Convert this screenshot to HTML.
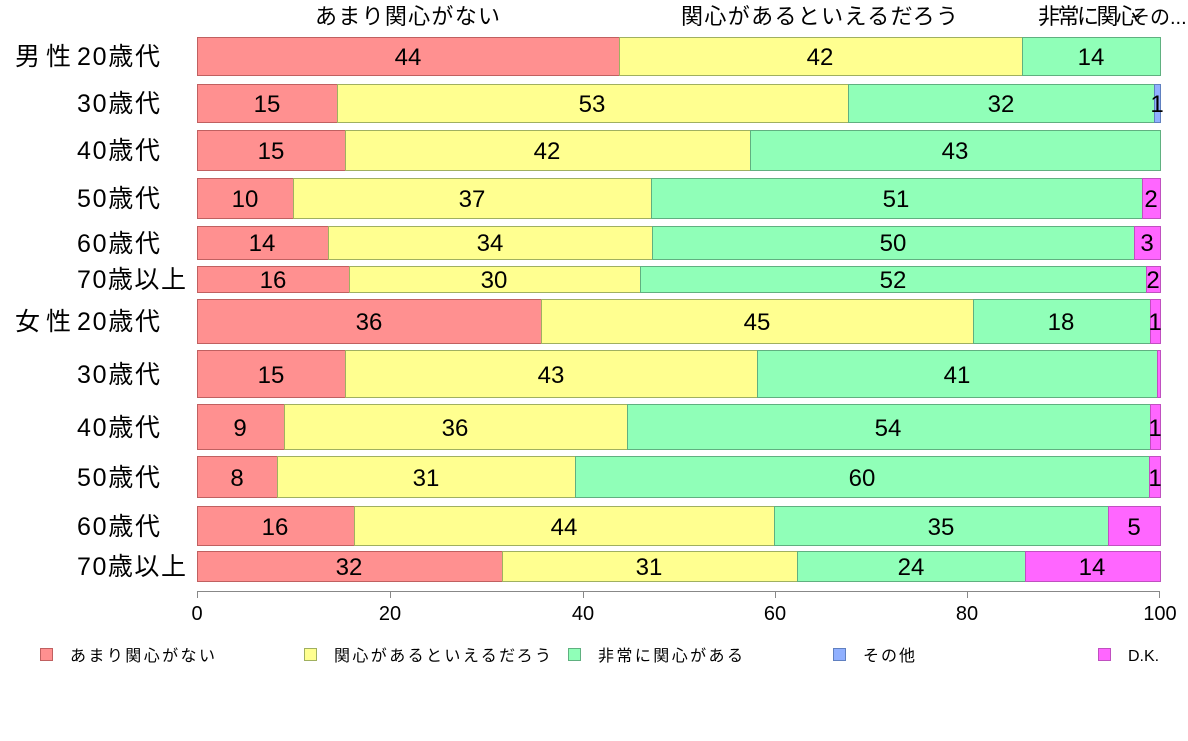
<!DOCTYPE html>
<html><head><meta charset="utf-8"><style>
body{margin:0;background:#fff;}
svg text{font-family:"Liberation Sans","Noto Sans CJK JP",sans-serif;fill:#000;}
.r{fill:#ff9090;stroke:#c06060}.y{fill:#ffff90;stroke:#a0b060}.g{fill:#90ffb8;stroke:#60b080}.b{fill:#90b0ff;stroke:#6080c0}.m{fill:#ff66ff;stroke:#c050c0}
</style></head><body>
<svg width="1188" height="736" xmlns="http://www.w3.org/2000/svg">
<g font-size="22">
<text x="315" y="24" textLength="185">あまり関心がない</text>
<text x="681" y="24" textLength="277">関心があるといえるだろう</text>
<text x="1038" y="24" textLength="100">非常に関心</text>
<text x="1130" y="24" font-size="20">その...</text>
</g>
<g stroke-width="1">
<rect class="r" x="197.5" y="37.5" width="422" height="38"/><rect class="y" x="619.5" y="37.5" width="403" height="38"/><rect class="g" x="1022.5" y="37.5" width="138" height="38"/>
<rect class="r" x="197.5" y="84.5" width="140" height="38"/><rect class="y" x="337.5" y="84.5" width="511" height="38"/><rect class="g" x="848.5" y="84.5" width="306" height="38"/><rect class="b" x="1154.5" y="84.5" width="6" height="38"/>
<rect class="r" x="197.5" y="130.5" width="148" height="40"/><rect class="y" x="345.5" y="130.5" width="405" height="40"/><rect class="g" x="750.5" y="130.5" width="410" height="40"/>
<rect class="r" x="197.5" y="178.5" width="96" height="40"/><rect class="y" x="293.5" y="178.5" width="358" height="40"/><rect class="g" x="651.5" y="178.5" width="491" height="40"/><rect class="m" x="1142.5" y="178.5" width="18" height="40"/>
<rect class="r" x="197.5" y="226.5" width="131" height="33"/><rect class="y" x="328.5" y="226.5" width="324" height="33"/><rect class="g" x="652.5" y="226.5" width="482" height="33"/><rect class="m" x="1134.5" y="226.5" width="26" height="33"/>
<rect class="r" x="197.5" y="266.5" width="152" height="26"/><rect class="y" x="349.5" y="266.5" width="291" height="26"/><rect class="g" x="640.5" y="266.5" width="506" height="26"/><rect class="m" x="1146.5" y="266.5" width="14" height="26"/>
<rect class="r" x="197.5" y="299.5" width="344" height="44"/><rect class="y" x="541.5" y="299.5" width="432" height="44"/><rect class="g" x="973.5" y="299.5" width="177" height="44"/><rect class="m" x="1150.5" y="299.5" width="10" height="44"/>
<rect class="r" x="197.5" y="350.5" width="148" height="47"/><rect class="y" x="345.5" y="350.5" width="412" height="47"/><rect class="g" x="757.5" y="350.5" width="400" height="47"/><rect class="m" x="1157.5" y="350.5" width="3" height="47"/>
<rect class="r" x="197.5" y="404.5" width="87" height="45"/><rect class="y" x="284.5" y="404.5" width="343" height="45"/><rect class="g" x="627.5" y="404.5" width="523" height="45"/><rect class="m" x="1150.5" y="404.5" width="10" height="45"/>
<rect class="r" x="197.5" y="456.5" width="80" height="41"/><rect class="y" x="277.5" y="456.5" width="298" height="41"/><rect class="g" x="575.5" y="456.5" width="574" height="41"/><rect class="m" x="1149.5" y="456.5" width="11" height="41"/>
<rect class="r" x="197.5" y="506.5" width="157" height="39"/><rect class="y" x="354.5" y="506.5" width="420" height="39"/><rect class="g" x="774.5" y="506.5" width="334" height="39"/><rect class="m" x="1108.5" y="506.5" width="52" height="39"/>
<rect class="r" x="197.5" y="551.5" width="305" height="30"/><rect class="y" x="502.5" y="551.5" width="295" height="30"/><rect class="g" x="797.5" y="551.5" width="228" height="30"/><rect class="m" x="1025.5" y="551.5" width="135" height="30"/>
</g>
<g font-size="24" text-anchor="middle">
<text x="408" y="65">44</text><text x="820" y="65">42</text><text x="1091" y="65">14</text>
<text x="267" y="112">15</text><text x="592" y="112">53</text><text x="1001" y="112">32</text><text x="1157" y="112">1</text>
<text x="271" y="159">15</text><text x="547" y="159">42</text><text x="955" y="159">43</text>
<text x="245" y="207">10</text><text x="472" y="207">37</text><text x="896" y="207">51</text><text x="1151" y="207">2</text>
<text x="262" y="251">14</text><text x="490" y="251">34</text><text x="893" y="251">50</text><text x="1147" y="251">3</text>
<text x="273" y="288">16</text><text x="494" y="288">30</text><text x="893" y="288">52</text><text x="1153" y="288">2</text>
<text x="369" y="330">36</text><text x="757" y="330">45</text><text x="1061" y="330">18</text><text x="1155" y="330">1</text>
<text x="271" y="383">15</text><text x="551" y="383">43</text><text x="957" y="383">41</text>
<text x="240" y="436">9</text><text x="455" y="436">36</text><text x="888" y="436">54</text><text x="1155" y="436">1</text>
<text x="237" y="486">8</text><text x="426" y="486">31</text><text x="862" y="486">60</text><text x="1155" y="486">1</text>
<text x="275" y="535">16</text><text x="564" y="535">44</text><text x="941" y="535">35</text><text x="1134" y="535">5</text>
<text x="349" y="575">32</text><text x="649" y="575">31</text><text x="911" y="575">24</text><text x="1092" y="575">14</text>
</g>
<g font-size="25">
<text x="15" y="65" textLength="56">男性</text><text x="15" y="330" textLength="56">女性</text>
<text x="77" y="65" textLength="83">20歳代</text>
<text x="77" y="112" textLength="83">30歳代</text>
<text x="77" y="159" textLength="83">40歳代</text>
<text x="77" y="207" textLength="83">50歳代</text>
<text x="77" y="252" textLength="83">60歳代</text>
<text x="77" y="288" textLength="109">70歳以上</text>
<text x="77" y="330" textLength="83">20歳代</text>
<text x="77" y="383" textLength="83">30歳代</text>
<text x="77" y="436" textLength="83">40歳代</text>
<text x="77" y="486" textLength="83">50歳代</text>
<text x="77" y="535" textLength="83">60歳代</text>
<text x="77" y="575" textLength="109">70歳以上</text>
</g>
<g stroke="#888" stroke-width="1">
<line x1="197" y1="591.5" x2="1160" y2="591.5"/>
<line x1="197.5" y1="591" x2="197.5" y2="598"/>
<line x1="390.5" y1="591" x2="390.5" y2="598"/>
<line x1="583.5" y1="591" x2="583.5" y2="598"/>
<line x1="775.5" y1="591" x2="775.5" y2="598"/>
<line x1="967.5" y1="591" x2="967.5" y2="598"/>
<line x1="1159.5" y1="591" x2="1159.5" y2="598"/>
</g>
<g font-size="20" text-anchor="middle">
<text x="197" y="620">0</text><text x="390" y="620">20</text><text x="583" y="620">40</text>
<text x="775" y="620">60</text><text x="967" y="620">80</text><text x="1160" y="620">100</text>
</g>
<g font-size="16">
<rect x="40.5" y="648.5" width="12" height="12" class="r"/><text x="70" y="661" textLength="145">あまり関心がない</text>
<rect x="304.5" y="648.5" width="12" height="12" class="y"/><text x="334" y="661" textLength="217">関心があるといえるだろう</text>
<rect x="568.5" y="648.5" width="12" height="12" class="g"/><text x="598" y="661" textLength="145">非常に関心がある</text>
<rect x="833.5" y="648.5" width="12" height="12" class="b"/><text x="863" y="661" textLength="52">その他</text>
<rect x="1098.5" y="648.5" width="12" height="12" class="m"/><text x="1128" y="661">D.K.</text>
</g>
</svg>
</body></html>
